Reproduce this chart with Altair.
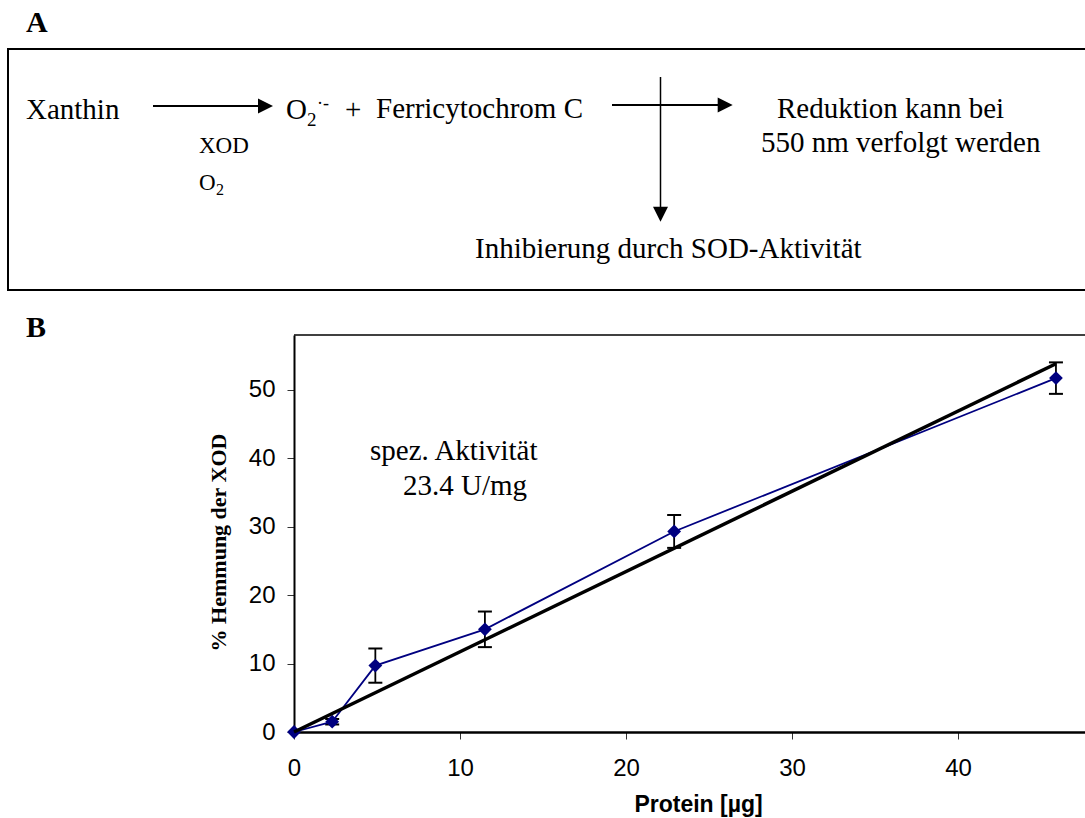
import altair as alt
import pandas as pd

# ---------------- data ----------------
protein = [0, 2.3, 4.9, 11.5, 22.9, 45.9]
hemmung = [0, 1.5, 9.7, 15.0, 29.3, 51.7]
fehler = [0, 0.4, 2.5, 2.6, 2.4, 2.3]
fit_protein = [0, 45.9]
fit_hemmung = [0, 53.8]
x_ticks = [0, 10, 20, 30, 40]
y_ticks = [0, 10, 20, 30, 40, 50]
x_domain = [0, 47.65]
y_domain = [0, 58]

x_title = "Protein [µg]"
y_title = "% Hemmung der XOD"
annot_lines = ["spez. Aktivität", "23.4 U/mg"]
panel_labels = ["A", "B"]
scheme_texts = {
    "xanthin": "Xanthin",
    "o": "O",
    "sub2": "2",
    "radical": "·-",
    "plus": "+",
    "ferri": "Ferricytochrom C",
    "red1": "Reduktion kann bei",
    "red2": "550 nm verfolgt werden",
    "inhib": "Inhibierung durch SOD-Aktivität",
    "xod": "XOD",
}

df = pd.DataFrame({"protein": protein, "hemmung": hemmung, "fehler": fehler})
df["lo"] = df["hemmung"] - df["fehler"]
df["hi"] = df["hemmung"] + df["fehler"]
fit_df = pd.DataFrame({"protein": fit_protein, "hemmung": fit_hemmung})

# ---------------- layout ----------------
OX, OY = 294, 335          # plot-area origin on the page
W, H = 791, 397            # plot-area size

SERIF = "Liberation Serif"
SANS = "Liberation Sans"


def X(field="protein"):
    return alt.X(
        f"{field}:Q",
        scale=alt.Scale(domain=x_domain, nice=False, zero=False),
        axis=alt.Axis(
            values=x_ticks, format="d", grid=False,
            domainColor="black", domainWidth=2.5,
            tickColor="#333333", tickSize=7, tickWidth=1,
            labelFont=SANS, labelFontSize=24, labelColor="black",
            labelPadding=17, labelFlush=False,
            title=x_title, titleFont=SANS, titleFontSize=23,
            titleFontWeight="bold", titleColor="black",
            titleX=404, titleY=79, titleAlign="center",
            titleBaseline="alphabetic",
        ),
    )


def Y(field="hemmung"):
    return alt.Y(
        f"{field}:Q",
        scale=alt.Scale(domain=y_domain, nice=False, zero=False),
        axis=alt.Axis(
            values=y_ticks, format="d", grid=False,
            domainColor="black", domainWidth=2,
            tickColor="#333333", tickSize=7, tickWidth=1,
            labelFont=SANS, labelFontSize=24, labelColor="black",
            labelPadding=12, labelFlush=False,
            title=y_title, titleFont=SERIF, titleFontSize=22,
            titleFontWeight="bold", titleColor="black",
            titleX=-69, titleY=207, titleAlign="center",
            titleBaseline="alphabetic",
        ),
    )


one = alt.Data(values=[{"k": 1}])


def text(txt, x, y, size=29, font=SERIF, weight="normal"):
    return alt.Chart(alt.Data(values=[{"t": txt}])).mark_text(
        font=font, fontSize=size, fontWeight=weight, align="left",
        baseline="alphabetic", color="black",
    ).encode(x=alt.value(x - OX), y=alt.value(y - OY), text="t:N")


def hline(x1, x2, y, w=2):
    return alt.Chart(one).mark_rule(color="black", strokeWidth=w).encode(
        x=alt.value(x1 - OX), x2=alt.value(x2 - OX), y=alt.value(y - OY))


def vline(x, y1, y2, w=1.5):
    return alt.Chart(one).mark_rule(color="black", strokeWidth=w).encode(
        x=alt.value(x - OX), y=alt.value(y1 - OY), y2=alt.value(y2 - OY))


def head(x, y, path):
    return alt.Chart(one).mark_point(
        shape=path, size=225, filled=True, color="black", opacity=1,
    ).encode(x=alt.value(x - OX), y=alt.value(y - OY))


RIGHT = "M-1,-1L1,0L-1,1Z"
DOWN = "M-1,-1L0,1L1,-1Z"

# ---------------- panel A (scheme) ----------------
box = alt.Chart(one).mark_rect(
    filled=False, stroke="black", strokeWidth=2,
).encode(x=alt.value(8 - OX), x2=alt.value(1110 - OX),
         y=alt.value(49 - OY), y2=alt.value(290 - OY))

scheme = [
    box,
    text(panel_labels[0], 26, 32, size=30, weight="bold"),
    text(scheme_texts["xanthin"], 26, 119),
    hline(153, 260, 106),
    head(265.5, 106, RIGHT),
    text(scheme_texts["o"], 286, 119),
    text(scheme_texts["sub2"], 307, 126, size=19),
    text(scheme_texts["radical"], 317, 109, size=18),
    text(scheme_texts["plus"], 345, 119),
    text(scheme_texts["ferri"], 376, 118),
    hline(612, 719, 105),
    head(725.2, 105, RIGHT),
    vline(660.5, 77, 208),
    head(660.5, 214.2, DOWN),
    text(scheme_texts["red1"], 777, 118),
    text(scheme_texts["red2"], 761, 152),
    text(scheme_texts["inhib"], 475, 258),
    text(scheme_texts["xod"], 199, 153, size=23),
    text(scheme_texts["o"], 199, 190, size=23),
    text(scheme_texts["sub2"], 216, 195, size=16),
    text(panel_labels[1], 26, 337, size=30, weight="bold"),
]

# ---------------- panel B (plot) ----------------
base = alt.Chart(df)

top_border = alt.Chart(one).mark_rule(color="black", strokeWidth=1.5).encode(
    x=alt.value(0), x2=alt.value(W + 10), y=alt.value(0))

err_rule = base.transform_filter("datum.fehler > 0").mark_rule(
    color="black", strokeWidth=1.8).encode(x=X(), y=Y("lo"), y2="hi:Q")
cap_hi = base.transform_filter("datum.fehler > 0").mark_point(
    shape="M-1,0L1,0", size=196, filled=False, stroke="black",
    strokeWidth=2, opacity=1).encode(x=X(), y=Y("hi"))
cap_lo = base.transform_filter("datum.fehler > 0").mark_point(
    shape="M-1,0L1,0", size=196, filled=False, stroke="black",
    strokeWidth=2, opacity=1).encode(x=X(), y=Y("lo"))

series_line = base.mark_line(color="#000080", strokeWidth=1.8).encode(
    x=X(), y=Y())
series_pts = base.mark_point(
    shape="diamond", filled=True, size=190, color="#000080", opacity=1,
).encode(x=X(), y=Y())

fit_line = alt.Chart(fit_df).mark_line(color="black", strokeWidth=3.5).encode(
    x=X(), y=Y())

annot = [
    text(annot_lines[0], 370, 460),
    text(annot_lines[1], 403, 495),
]

chart = alt.layer(
    *scheme,
    top_border,
    err_rule, cap_hi, cap_lo,
    series_line, series_pts, fit_line,
    *annot,
).properties(
    width=W, height=H,
    padding={"left": OX, "top": OY, "right": 0, "bottom": 818 - OY - H},
    autosize=alt.AutoSizeParams(type="none"),
    background="white",
).configure_view(stroke="transparent")

chart.save("out.html", embed_options={"renderer": "svg", "actions": False})
